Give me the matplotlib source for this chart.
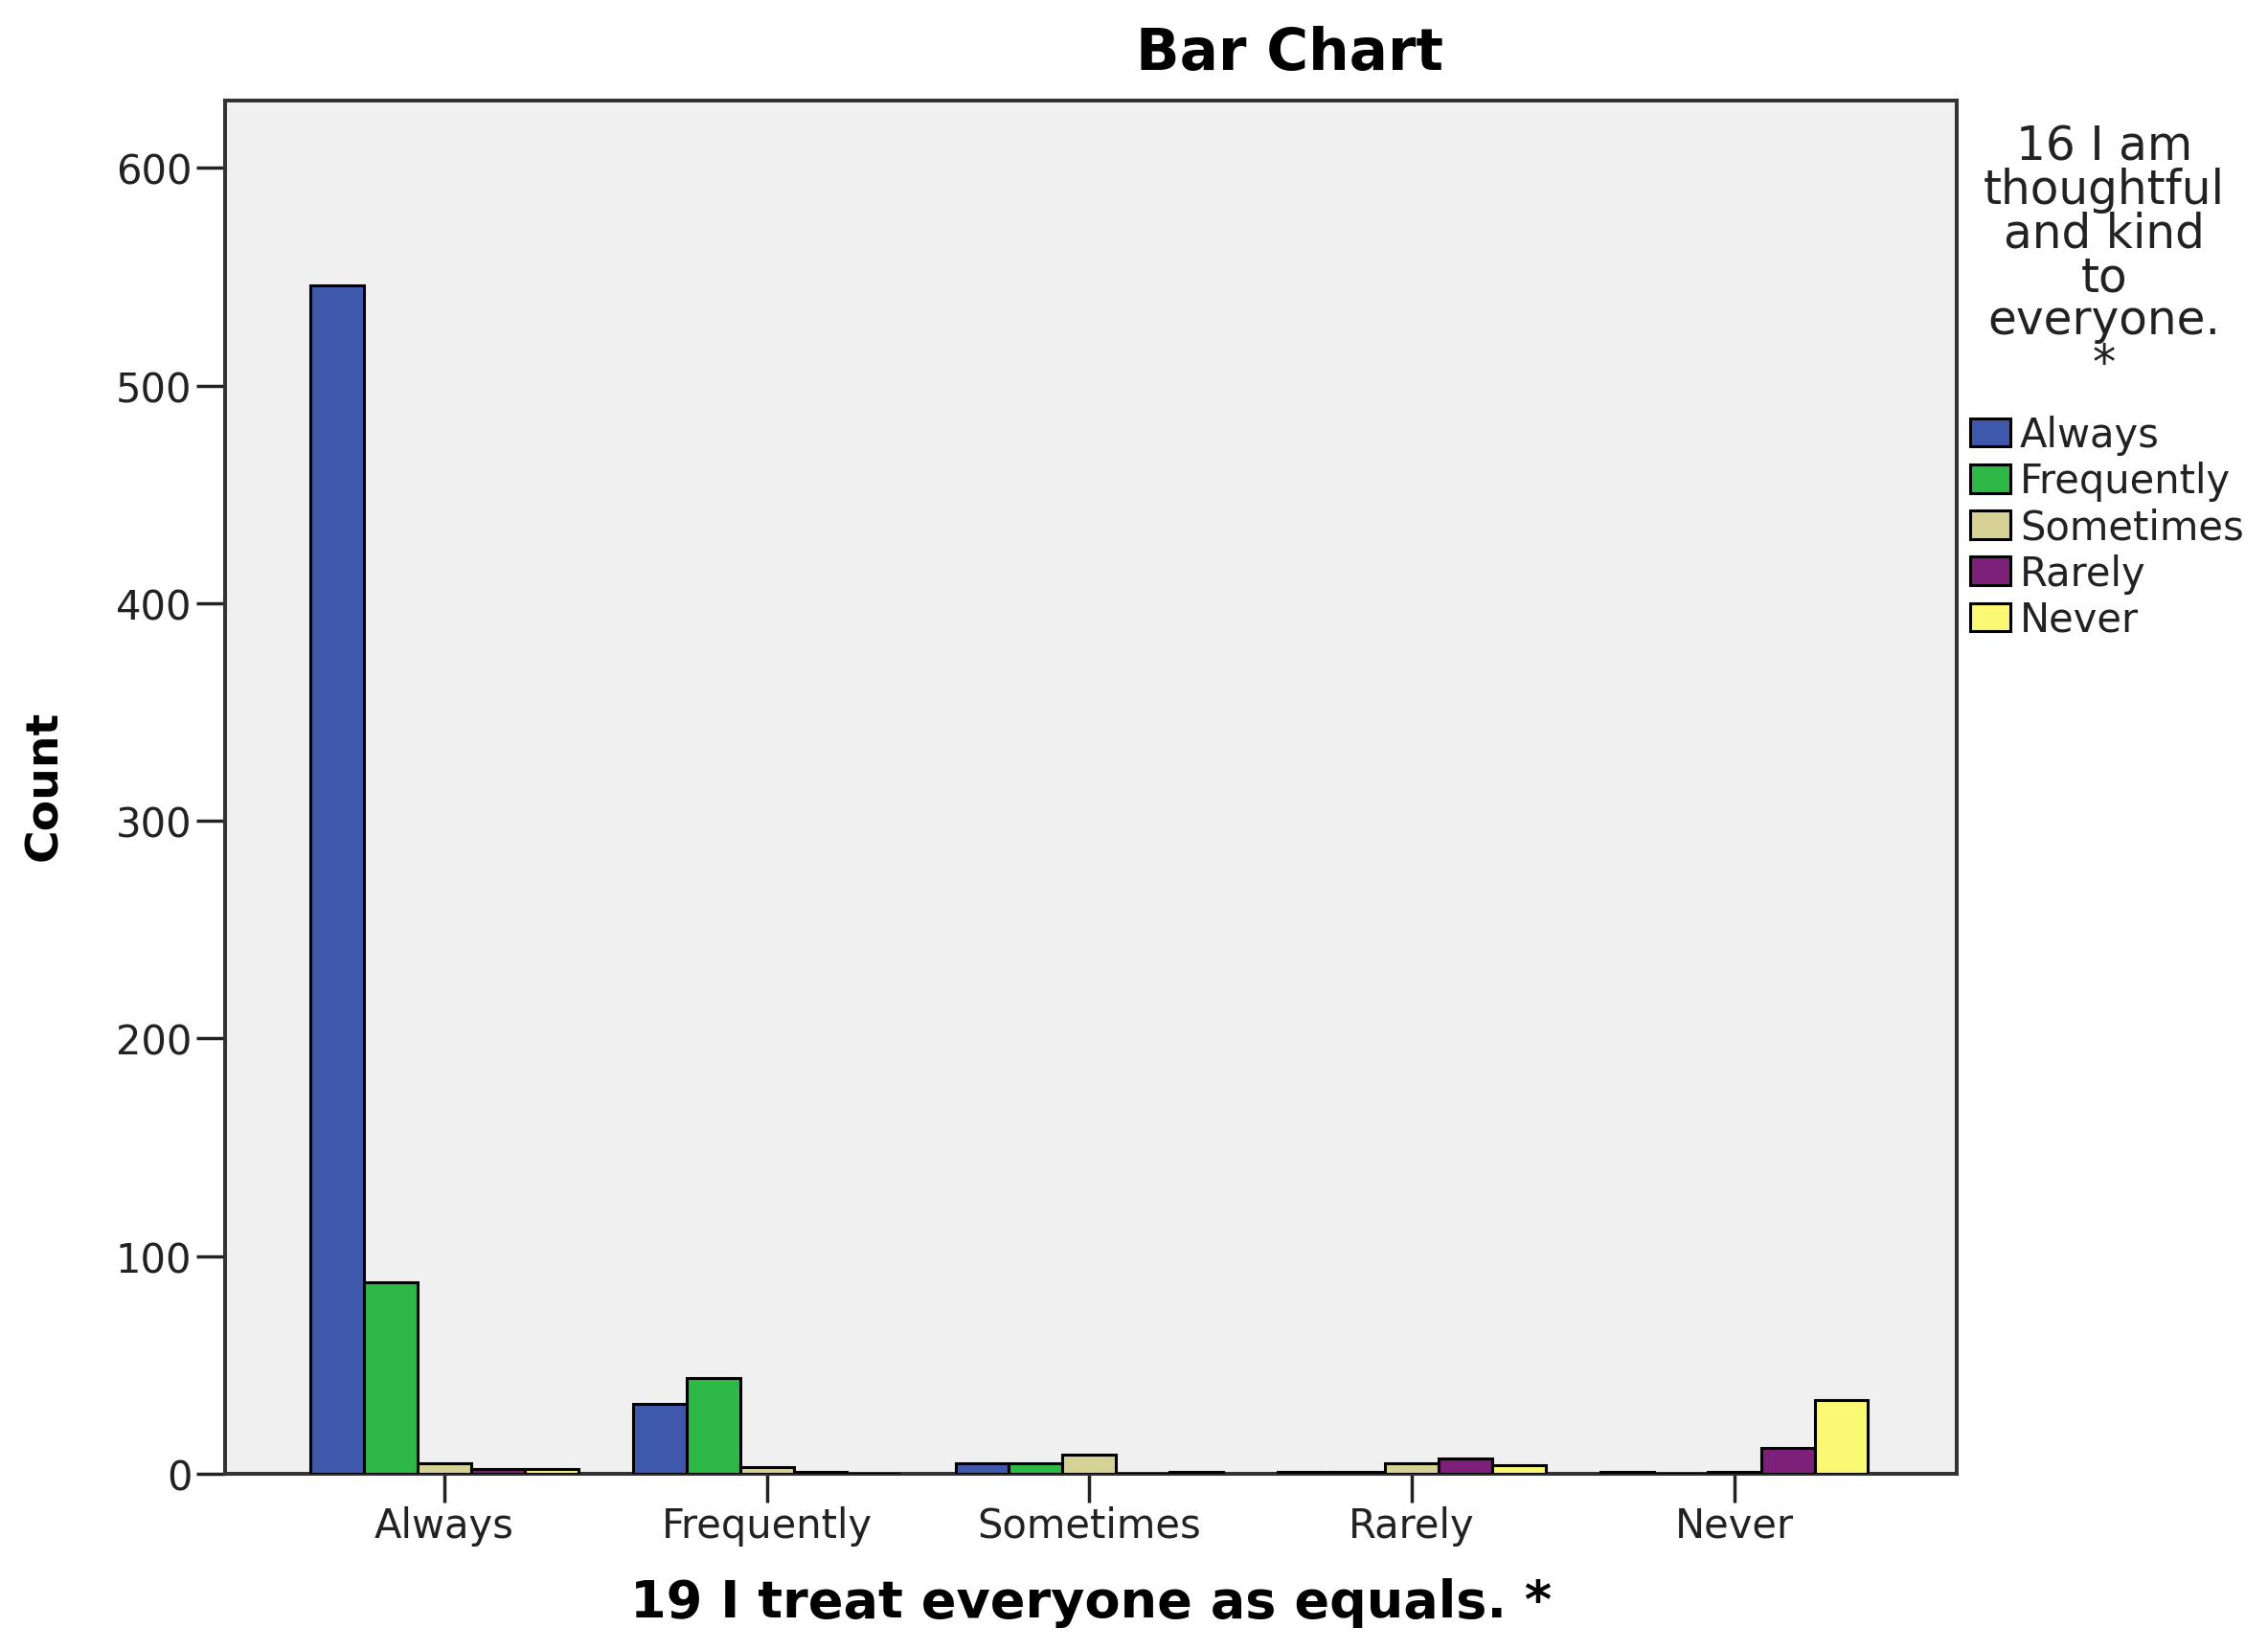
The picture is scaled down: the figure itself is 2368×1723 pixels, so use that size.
import matplotlib
matplotlib.use("Agg")
import matplotlib.pyplot as plt
import numpy as np

plt.rcParams['font.family'] = ['DejaVu Sans']

categories = ["Always", "Frequently", "Sometimes", "Rarely", "Never"]
series_names = ["Always", "Frequently", "Sometimes", "Rarely", "Never"]
# counts per legend series, ordered by x category
always_vals = [546, 32, 5, 1, 1]
frequently_vals = [88, 44, 5, 1, 0]
sometimes_vals = [5, 3, 9, 5, 1]
rarely_vals = [2, 1, 0, 7, 12]
never_vals = [2, 0, 1, 4, 34]
series_vals = [always_vals, frequently_vals, sometimes_vals, rarely_vals, never_vals]
colors = ["#3e58ac", "#2eb848", "#d6d194", "#7c2079", "#fbf873"]
yticks = [0, 100, 200, 300, 400, 500, 600]
legend_title = "16 I am\nthoughtful\nand kind\nto\neveryone.\n*"

W, H = 2368, 1724
fig = plt.figure(figsize=(W / 100, H / 100), dpi=100)
left, right, top, bottom = 235, 2043, 106, 1540
ax = fig.add_axes([left / W, 1 - bottom / H, (right - left) / W, (bottom - top) / H])
ax.set_facecolor("#f0f0f0")

x = np.arange(len(categories))
bw = 0.166
handles = []
for i, (name, vals, c) in enumerate(zip(series_names, series_vals, colors)):
    b = ax.bar(x + (i - 2) * bw, vals, width=bw, color=c, edgecolor="black",
               linewidth=2.2, label=name, zorder=3)
    handles.append(b)

ax.set_xlim(-0.68, 4.69)
ax.set_ylim(0, 631)
ax.set_yticks(yticks)
ax.set_xticks(x)
ax.set_xticklabels(categories)
ax.tick_params(axis="both", direction="out", length=21.5, width=2.5, labelsize=30,
               colors="#222222")
ax.tick_params(axis="y", pad=3.5)
ax.tick_params(axis="x", pad=2)
for s in ax.spines.values():
    s.set_linewidth(2.9)
    s.set_color("#333333")

ax.set_xlabel("19 I treat everyone as equals. *", fontsize=39, fontweight="bold")
ax.xaxis.set_label_coords(1139 / W, 1 - 1674 / H, transform=fig.transFigure)
ax.xaxis.label.set_va("center")
ax.set_ylabel("Count", fontsize=34, fontweight="bold")
ax.yaxis.set_label_coords(47 / W, 1 - 820 / H, transform=fig.transFigure)
ax.yaxis.label.set_va("center")

fig.text(1347 / W, 1 - 57 / H, "Bar Chart", fontsize=43, fontweight="bold",
         ha="center", va="center")

fig.text(2197 / W, 1 - 130 / H, legend_title, fontsize=35, ha="center",
         va="top", multialignment="center", linespacing=0.93, color="#222222")

leg = ax.legend(handles=handles, labels=series_names,
                loc="upper left", bbox_to_anchor=(2057 / W, 1 - 434 / H),
                bbox_transform=fig.transFigure, frameon=False, fontsize=30,
                handlelength=1.0, handleheight=0.72, handletextpad=0.25,
                labelspacing=0.15, borderpad=0.0, borderaxespad=0.0)
for p in leg.get_patches():
    p.set_linewidth(2.2)
for t in leg.get_texts():
    t.set_color("#222222")

fig.savefig("out.png", dpi=100)
